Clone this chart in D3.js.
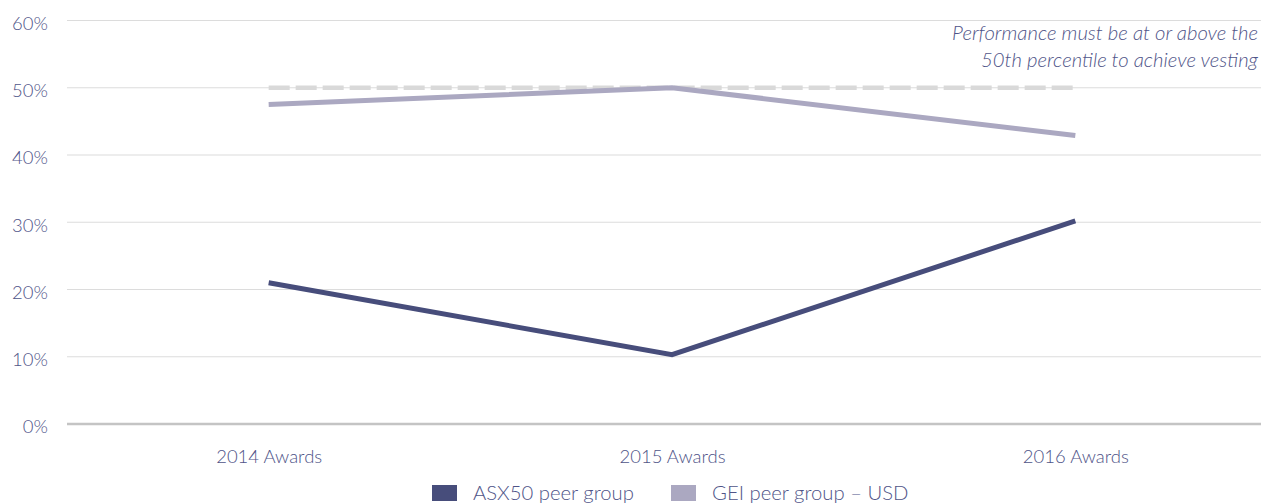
<!DOCTYPE html>
<html>
<head>
<meta charset="utf-8">
<script src="https://cdn.jsdelivr.net/npm/d3@7/dist/d3.min.js"></script>
<style>
  html, body { margin: 0; padding: 0; background: #fff; }
  svg { display: block; font-family: Lato, "Open Sans", sans-serif; }
</style>
</head>
<body>
<svg id="chart" width="1261" height="504"></svg>
<script>
// Award years on the x axis
const categories = ["2014 Awards", "2015 Awards", "2016 Awards"];
// Percentile ranking of total shareholder return, per peer group
const asx50 = [21.0, 10.3, 30.2];
const gei = [47.5, 50.0, 42.9];
// Vesting threshold
const threshold = [50, 50, 50];
const yTicks = [0, 10, 20, 30, 40, 50, 60];
const seriesNames = ["ASX50 peer group", "GEI peer group \u2013 USD"];
const noteLines = ["Performance must be at or above the", "50th percentile to achieve vesting"];

const W = 1261, H = 504;
const plotLeft = 67, plotRight = 1277, plotTop = 20.5, plotBottom = 424;
const textColor = "#4f5488";
const fontWeight = 300;
const colors = ["#474d7b", "#aba8c1"];

const svg = d3.select("#chart");

const x = d3.scalePoint().domain(categories).range([plotLeft, plotRight]).padding(0.5);
const y = d3.scaleLinear().domain([0, 60]).range([plotBottom, plotTop]);

// Horizontal gridlines
svg.append("g")
  .selectAll("line")
  .data(yTicks.filter(d => d > 0))
  .join("line")
  .attr("x1", plotLeft).attr("x2", W)
  .attr("y1", d => y(d)).attr("y2", d => y(d))
  .attr("stroke", "#dcdcdc").attr("stroke-width", 1.2);

// Baseline
svg.append("line")
  .attr("x1", plotLeft).attr("x2", W)
  .attr("y1", y(0)).attr("y2", y(0))
  .attr("stroke", "#c4c4c4").attr("stroke-width", 2.4);

// Y axis labels
const yAxis = d3.axisLeft(y).tickValues(yTicks).tickFormat(d => d + "%").tickSize(0).tickPadding(0);
const ya = svg.append("g").attr("transform", "translate(48,3)").call(yAxis);
ya.select(".domain").remove();
ya.selectAll("text")
  .attr("fill", textColor)
  .attr("font-size", 18.5)
  .attr("font-weight", fontWeight)
  .attr("font-family", "Lato, 'Open Sans', sans-serif");

// X axis labels
const xAxis = d3.axisBottom(x).tickSize(0).tickPadding(0);
const xa = svg.append("g").attr("transform", `translate(0,${plotBottom + 26})`).call(xAxis);
xa.select(".domain").remove();
xa.selectAll("text")
  .attr("fill", textColor)
  .attr("font-size", 18.5)
  .attr("font-weight", fontWeight)
  .attr("font-family", "Lato, 'Open Sans', sans-serif");

// Threshold dashed line
const line = d3.line().x((d, i) => x(categories[i])).y(d => y(d));
svg.append("path")
  .datum(threshold)
  .attr("d", line)
  .attr("fill", "none")
  .attr("stroke", "#d9d9d9")
  .attr("stroke-width", 4.5)
  .attr("stroke-dasharray", "21,6");

// Series lines
[gei, asx50].forEach((vals, k) => {
  svg.append("path")
    .datum(vals)
    .attr("d", line)
    .attr("fill", "none")
    .attr("stroke", k === 0 ? colors[1] : colors[0])
    .attr("stroke-width", 5)
    .attr("stroke-linejoin", "miter");
});

// Note
const note = svg.append("text")
  .attr("text-anchor", "end")
  .attr("fill", textColor)
  .attr("font-size", 20.3)
  .attr("font-style", "italic")
  .attr("font-weight", fontWeight);
noteLines.forEach((t, i) => {
  note.append("tspan").attr("x", 1258).attr("y", 40 + i * 26.5).text(t);
});

// Legend
const legendX = [432, 671];
const lg = svg.append("g");
seriesNames.forEach((name, i) => {
  lg.append("rect")
    .attr("x", legendX[i]).attr("y", 485)
    .attr("width", 25).attr("height", 16)
    .attr("fill", colors[i]);
  lg.append("text")
    .attr("x", legendX[i] + 41).attr("y", 499.5)
    .attr("fill", textColor)
    .attr("font-size", 20.3)
    .attr("font-weight", fontWeight)
    .text(name);
});
</script>
</body>
</html>
